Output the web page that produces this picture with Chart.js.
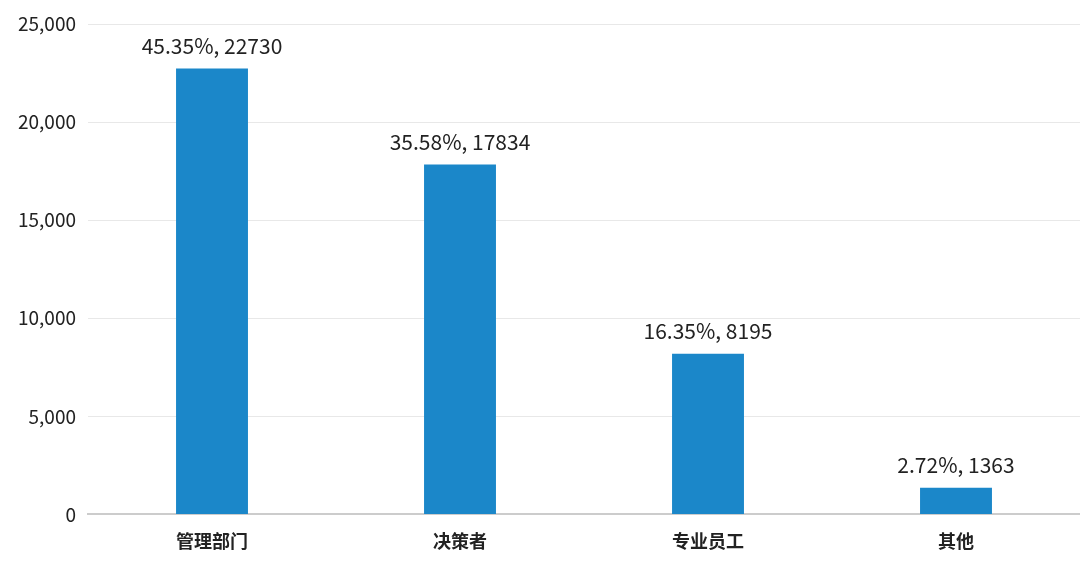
<!DOCTYPE html>
<html>
<head>
<meta charset="utf-8">
<script src="https://cdn.jsdelivr.net/npm/chart.js@4"></script>
<style>
  html, body { margin: 0; padding: 0; background: #fff; }
  #wrap { width: 1080px; height: 564px; }
</style>
</head>
<body>
<div id="wrap"><canvas id="chartCanvas"></canvas></div>
<script>
const categories = ['管理部门', '决策者', '专业员工', '其他'];
const counts = [22730, 17834, 8195, 1363];
const shares = ['45.35%', '35.58%', '16.35%', '2.72%'];
const yTicks = [0, 5000, 10000, 15000, 20000, 25000];

const fontFamily = '"Noto Sans CJK SC", "Noto Sans", sans-serif';

// labels above each bar: "share, count"
const barLabels = {
  id: 'barLabels',
  afterDatasetsDraw(chart) {
    const ctx = chart.ctx;
    const meta = chart.getDatasetMeta(0);
    ctx.save();
    ctx.font = '21px ' + fontFamily;
    ctx.fillStyle = '#222';
    ctx.textAlign = 'center';
    ctx.textBaseline = 'bottom';
    meta.data.forEach((bar, i) => {
      ctx.fillText(shares[i] + ', ' + counts[i], bar.x, bar.y - 12);
    });
    ctx.restore();
  }
};

new Chart(document.getElementById('chartCanvas').getContext('2d'), {
  type: 'bar',
  data: {
    labels: categories,
    datasets: [{
      data: counts,
      backgroundColor: '#1b87c9',
      barPercentage: 0.29,
      categoryPercentage: 1
    }]
  },
  options: {
    responsive: true,
    maintainAspectRatio: false,
    animation: false,
    layout: { padding: { top: 24, right: 0, left: 6, bottom: 4 } },
    plugins: { legend: { display: false }, tooltip: { enabled: false } },
    scales: {
      x: {
        grid: { display: false },
        border: { color: '#cccccc', width: 2 },
        ticks: { color: '#222', font: { family: fontFamily, size: 18, weight: 'bold' }, padding: 8 }
      },
      y: {
        min: 0,
        max: 25000,
        afterBuildTicks(axis) { axis.ticks = yTicks.map(v => ({ value: v })); },
        grid: { color: '#e8e8e8', drawTicks: false },
        border: { display: false },
        ticks: { color: '#222', font: { family: fontFamily, size: 19 }, padding: 12 }
      }
    }
  },
  plugins: [barLabels]
});
</script>
</body>
</html>
